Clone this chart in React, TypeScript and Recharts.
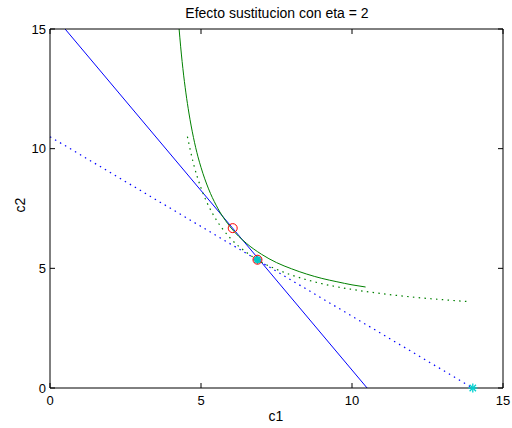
import React from 'react';
import { ComposedChart, Line, Scatter, XAxis, YAxis } from 'recharts';

// Budget lines
const budgetSolidC1 = [0.5, 10.5];
const budgetSolidC2 = [15, 0];
const budgetDottedC1 = [0, 14];
const budgetDottedC2 = [10.5, 0];

// Indifference curve through the original optimum (solid green)
const icSolidC1 = [4.275, 4.3, 4.4, 4.5, 4.6, 4.75, 4.9, 5, 5.25, 5.5, 6, 6.5, 7, 7.5, 8, 8.5, 9, 9.5, 10, 10.45];
const icSolidC2 = [15, 14.63, 13.35, 12.33, 11.49, 10.47, 9.66, 9.22, 8.32, 7.64, 6.68, 6.05, 5.59, 5.24, 4.98, 4.76, 4.58, 4.44, 4.31, 4.22];

// Compensated indifference curve (dotted green)
const icDottedC1 = [4.55, 4.75, 5, 5.25, 5.5, 6, 6.5, 7, 7.5, 8, 9, 10, 11, 12, 13, 13.85];
const icDottedC2 = [10.5, 9.38, 8.36, 7.61, 7.04, 6.22, 5.67, 5.26, 4.96, 4.72, 4.36, 4.12, 3.94, 3.8, 3.69, 3.61];

// Marked points
const optimumC1 = [6.05];
const optimumC2 = [6.68];
const compensatedC1 = [6.87];
const compensatedC2 = [5.36];
const endowmentC1 = [14];
const endowmentC2 = [0];

const axisTicks = [0, 5, 10, 15];

const zip = (xs: number[], ys: number[]) => xs.map((x, i) => ({ x, y: ys[i] }));

const FONT = '"Liberation Sans", Arial, Helvetica, sans-serif';

const BottomTick = (props: any) => {
  const { x, y, payload } = props;
  return (
    <g>
      <line x1={x} x2={x} y1={y} y2={y - 5} stroke="#000" strokeWidth={1} />
      <text x={x} y={y + 17} textAnchor="middle" fontSize={13} fontFamily={FONT} fill="#000">
        {payload.value}
      </text>
    </g>
  );
};

const TopTick = (props: any) => {
  const { x, y } = props;
  return <line x1={x} x2={x} y1={y} y2={y + 5} stroke="#000" strokeWidth={1} />;
};

const LeftTick = (props: any) => {
  const { x, y, payload } = props;
  return (
    <g>
      <line x1={x} x2={x + 5} y1={y} y2={y} stroke="#000" strokeWidth={1} />
      <text x={x - 4} y={y + 4.5} textAnchor="end" fontSize={13} fontFamily={FONT} fill="#000">
        {payload.value}
      </text>
    </g>
  );
};

const RightTick = (props: any) => {
  const { x, y } = props;
  return <line x1={x} x2={x - 5} y1={y} y2={y} stroke="#000" strokeWidth={1} />;
};

const RedCircle = (props: any) => {
  const { cx, cy } = props;
  return <circle cx={cx} cy={cy} r={4.5} fill="none" stroke="#ff0000" strokeWidth={1} />;
};

const Star = ({ cx, cy, color }: { cx: number; cy: number; color: string }) => {
  const r = 4.5;
  const d = r * 0.7071;
  return (
    <g stroke={color} strokeWidth={1.3}>
      <line x1={cx - r} x2={cx + r} y1={cy} y2={cy} />
      <line x1={cx} x2={cx} y1={cy - r} y2={cy + r} />
      <line x1={cx - d} x2={cx + d} y1={cy - d} y2={cy + d} />
      <line x1={cx - d} x2={cx + d} y1={cy + d} y2={cy - d} />
    </g>
  );
};

const CompensatedMarker = (props: any) => {
  const { cx, cy } = props;
  return (
    <g>
      <circle cx={cx} cy={cy} r={3.5} fill="#20c0c0" stroke="none" />
      <Star cx={cx} cy={cy} color="#00c8c8" />
      <circle cx={cx} cy={cy} r={4.5} fill="none" stroke="#ff0000" strokeWidth={1} />
    </g>
  );
};

const EndowmentMarker = (props: any) => {
  const { cx, cy } = props;
  return <Star cx={cx} cy={cy} color="#00d0d0" />;
};

export default function App() {
  return (
    <div style={{ position: 'absolute', left: 0, top: 0, width: 512, height: 428, background: '#fff' }}>
      <ComposedChart
        width={512}
        height={428}
        margin={{ top: 28, right: 8, bottom: 0, left: 0 }}
        style={{ position: 'absolute', left: 0, top: 0 }}
      >
        <XAxis
          xAxisId={0}
          type="number"
          dataKey="x"
          domain={[0, 15]}
          ticks={axisTicks}
          height={40}
          tickLine={false}
          tickSize={0}
          tickMargin={0}
          tick={<BottomTick />}
          axisLine={{ stroke: '#000', strokeWidth: 1 }}
          interval={0}
        />
        <XAxis
          xAxisId="top"
          orientation="top"
          type="number"
          dataKey="x"
          domain={[0, 15]}
          ticks={axisTicks}
          height={1}
          tickLine={false}
          tickSize={0}
          tickMargin={0}
          tick={<TopTick />}
          axisLine={{ stroke: '#000', strokeWidth: 1 }}
          interval={0}
        />
        <YAxis
          yAxisId={0}
          type="number"
          dataKey="y"
          domain={[0, 15]}
          ticks={axisTicks}
          width={50}
          tickLine={false}
          tickSize={0}
          tickMargin={0}
          tick={<LeftTick />}
          axisLine={{ stroke: '#000', strokeWidth: 1 }}
          interval={0}
        />
        <YAxis
          yAxisId="right"
          orientation="right"
          type="number"
          dataKey="y"
          domain={[0, 15]}
          ticks={axisTicks}
          width={1}
          tickLine={false}
          tickSize={0}
          tickMargin={0}
          tick={<RightTick />}
          axisLine={{ stroke: '#000', strokeWidth: 1 }}
          interval={0}
        />
        <Line
          data={zip(budgetSolidC1, budgetSolidC2)}
          dataKey="y"
          type="linear"
          stroke="#0000ff"
          strokeWidth={1}
          dot={false}
          activeDot={false}
          isAnimationActive={false}
        />
        <Line
          data={zip(budgetDottedC1, budgetDottedC2)}
          dataKey="y"
          type="linear"
          stroke="#0000ff"
          strokeWidth={1.2}
          strokeDasharray="1.5 4.3"
          dot={false}
          activeDot={false}
          isAnimationActive={false}
        />
        <Line
          data={zip(icSolidC1, icSolidC2)}
          dataKey="y"
          type="monotone"
          stroke="#008000"
          strokeWidth={1}
          dot={false}
          activeDot={false}
          isAnimationActive={false}
        />
        <Line
          data={zip(icDottedC1, icDottedC2)}
          dataKey="y"
          type="monotone"
          stroke="#008000"
          strokeWidth={1.2}
          strokeDasharray="1.5 4.3"
          dot={false}
          activeDot={false}
          isAnimationActive={false}
        />
        <Line
          xAxisId="top"
          yAxisId="right"
          data={zip(budgetSolidC1, budgetSolidC2)}
          dataKey="y"
          stroke="none"
          dot={false}
          activeDot={false}
          legendType="none"
          isAnimationActive={false}
        />
        <Scatter
          data={zip(optimumC1, optimumC2)}
          dataKey="y"
          shape={<RedCircle />}
          isAnimationActive={false}
        />
        <Scatter
          data={zip(compensatedC1, compensatedC2)}
          dataKey="y"
          shape={<CompensatedMarker />}
          isAnimationActive={false}
        />
        <Scatter
          data={zip(endowmentC1, endowmentC2)}
          dataKey="y"
          shape={<EndowmentMarker />}
          isAnimationActive={false}
        />
      </ComposedChart>
      <svg
        width={512}
        height={428}
        style={{ position: 'absolute', left: 0, top: 0, pointerEvents: 'none' }}
      >
        <text x={277} y={18} textAnchor="middle" fontSize={14} fontFamily={FONT} fill="#000">
          Efecto sustitucion con eta = 2
        </text>
        <text x={276} y={421} textAnchor="middle" fontSize={14} fontFamily={FONT} fill="#000">
          c1
        </text>
        <text
          x={25}
          y={205}
          textAnchor="middle"
          fontSize={14}
          fontFamily={FONT}
          fill="#000"
          transform="rotate(-90 25 205)"
        >
          c2
        </text>
      </svg>
    </div>
  );
}
